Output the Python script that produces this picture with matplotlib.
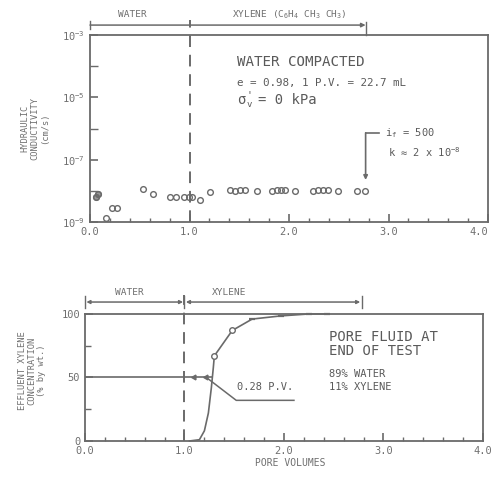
import matplotlib
matplotlib.use("Agg")
import matplotlib.pyplot as plt
import matplotlib.transforms as mtransforms
import numpy as np

plt.rcParams['font.family'] = ['DejaVu Sans Mono', 'DejaVu Sans']
plt.rcParams['mathtext.fontset'] = 'custom'
plt.rcParams['mathtext.rm'] = 'DejaVu Sans Mono'
plt.rcParams['mathtext.it'] = 'DejaVu Sans Mono:italic'
plt.rcParams['mathtext.default'] = 'regular'

# ---------------- data ----------------
# top: hydraulic conductivity vs pore volumes
k_pv = [0.06, 0.08, 0.16, 0.22, 0.27, 0.53, 0.63, 0.80, 0.86, 0.94, 0.99, 1.03,
        1.11, 1.21, 1.41, 1.46, 1.51, 1.56, 1.68, 1.83, 1.88, 1.92, 1.96, 2.06,
        2.24, 2.29, 2.34, 2.39, 2.49, 2.68, 2.76]
k_val = [6.5e-9, 8e-9, 1.35e-9, 2.8e-9, 2.8e-9, 1.15e-8, 8e-9, 6.3e-9, 6.3e-9,
         6.3e-9, 6.3e-9, 6.3e-9, 5e-9, 9e-9, 1.05e-8, 1e-8, 1.05e-8, 1.05e-8,
         1e-8, 1e-8, 1.05e-8, 1.05e-8, 1.05e-8, 1e-8, 1e-8, 1.05e-8, 1.05e-8,
         1.05e-8, 1e-8, 1e-8, 1e-8]
x_ticks = [0.0, 1.0, 2.0, 3.0, 4.0]
x_ticklabels = ["0.0", "1.0", "2.0", "3.0", "4.0"]
k_ticks = [1e-9, 1e-7, 1e-5, 1e-3]
k_ticklabels = ["10$^{-9}$", "10$^{-7}$", "10$^{-5}$", "10$^{-3}$"]

# bottom: effluent xylene concentration vs pore volumes
c_curve_pv = [1.05, 1.15, 1.20, 1.24, 1.27, 1.29, 1.30, 1.48, 1.68, 1.97, 2.25, 2.43]
c_curve_val = [0, 1, 8, 22, 42, 58, 67, 87, 96, 98.5, 100, 100]
c_circ_pv = [1.30, 1.48]
c_circ_val = [67, 87]
c_mark_pv = [1.68, 1.97, 2.25, 2.43]
c_mark_val = [96, 98.5, 100, 100]
c_ticks = [0, 50, 100]
c_ticklabels = ["0", "50", "100"]
half_pv = [0.0, 1.28]
half_val = [50, 50]
half_pts_pv = [1.10, 1.22]
half_pts_val = [50, 50]
leader_pv = [1.22, 1.52, 2.10]
leader_val = [50, 32, 32]

GRAY = "#6a6a6a"
TGRAY = "#6f6f6f"
DGRAY = "#5a5a5a"

fig = plt.figure(figsize=(4.91, 4.82), dpi=100)
ax1 = fig.add_axes([0.1833, 0.5394, 0.8106, 0.388])
ax2 = fig.add_axes([0.1731, 0.0851, 0.8106, 0.2635])

for ax in (ax1, ax2):
    for s in ax.spines.values():
        s.set_color(GRAY)
        s.set_linewidth(1.3)
    ax.tick_params(which='both', direction='in', colors=GRAY, labelcolor=TGRAY,
                   labelsize=7.5, top=False, right=False)
    ax.tick_params(which='major', length=6, width=1.2)
    ax.tick_params(which='minor', length=3, width=1.0)
    ax.set_xlim(0, 4.0)
    ax.set_xticks(x_ticks)
    ax.set_xticklabels(x_ticklabels)
    ax.set_xticks(np.arange(0, 4.01, 0.2), minor=True)

# ---------------- top panel ----------------
ax1.set_yscale('log')
ax1.set_ylim(1e-9, 1e-3)
ax1.set_yticks(k_ticks)
ax1.set_yticklabels(k_ticklabels)
ax1.set_yticks([1e-8, 1e-6, 1e-4], minor=True)
ax1.tick_params(axis='y', which='minor', length=6)
ax1.yaxis.set_minor_formatter(plt.NullFormatter())
ax1.get_xticklabels()[-1].set_horizontalalignment('right')
ax1.get_xticklabels()[-1].set_x(3.99)

ax1.plot(k_pv, k_val, 'o', ms=4.1, mfc='none', mec=GRAY, mew=1.0, clip_on=False)
ax1.plot(k_pv[:2], k_val[:2], 'o', ms=4.1, mfc=GRAY, mec=GRAY, alpha=0.7)

tr1 = mtransforms.blended_transform_factory(ax1.transData, ax1.transAxes)
ax1.plot([1.0, 1.0], [0, 1.08], transform=tr1, color=GRAY, lw=1.4,
         ls=(0, (6, 4)), clip_on=False)
ax1.annotate("", xy=(2.77, 1.053), xytext=(0.0, 1.053), xycoords=tr1,
             textcoords=tr1,
             arrowprops=dict(arrowstyle='-|>', color=GRAY, lw=1.1,
                             mutation_scale=6, shrinkA=0, shrinkB=0))
ax1.plot([0.0, 0.0], [1.03, 1.075], transform=tr1, color=GRAY, lw=1.0, clip_on=False)
ax1.plot([2.77, 2.77], [1.0, 1.07], transform=tr1, color=GRAY, lw=1.0, clip_on=False)
ax1.text(0.43, 1.107, "WATER", transform=tr1, ha='center', va='center',
         fontsize=6.8, color=TGRAY)
ax1.text(2.0, 1.107, "XYLENE (C$_6$H$_4$ CH$_3$ CH$_3$)", transform=tr1,
         ha='center', va='center', fontsize=6.8, color=TGRAY)

ax1.text(1.48, 0.856, "WATER COMPACTED", transform=tr1, ha='left', va='center',
         fontsize=10.2, color=DGRAY)
ax1.text(1.48, 0.742, "e = 0.98, 1 P.V. = 22.7 mL", transform=tr1, ha='left',
         va='center', fontsize=7.8, color=DGRAY)
# sigma'_v = 0 kPa, built from pieces
sig_xy = (1.48, 0.655)
ax1.annotate("σ", xy=sig_xy, xycoords=tr1, ha='left', va='center',
             fontsize=10, color=DGRAY)
ax1.annotate("'", xy=sig_xy, xycoords=tr1, xytext=(6.5, 3.5),
             textcoords='offset points', ha='left', va='center',
             fontsize=7, color=DGRAY)
ax1.annotate("v", xy=sig_xy, xycoords=tr1, xytext=(6.5, -3.5),
             textcoords='offset points', ha='left', va='center',
             fontsize=6.5, color=DGRAY)
ax1.annotate("= 0 kPa", xy=sig_xy, xycoords=tr1, xytext=(15, 0),
             textcoords='offset points', ha='left', va='center',
             fontsize=10, color=DGRAY)

ax1.annotate("", xy=(2.77, 10**-7.65), xytext=(2.77, 10**-6.14),
             arrowprops=dict(arrowstyle='-|>', color=GRAY, lw=1.2,
                             mutation_scale=6, shrinkA=0, shrinkB=0))
ax1.plot([2.77, 2.90], [10**-6.14, 10**-6.14], color=GRAY, lw=1.2)
ax1.text(2.965, 10**-6.14, "$i_f$ = 500", ha='left', va='center', fontsize=7.5,
         color=DGRAY)
ax1.text(2.99, 10**-6.75, "k ≈ 2 x 10$^{-8}$", ha='left', va='center',
         fontsize=7.5, color=DGRAY)

# ---------------- bottom panel ----------------
ax2.set_ylim(0, 100)
ax2.set_yticks(c_ticks)
ax2.set_yticklabels(c_ticklabels)
ax2.set_yticks([25, 75], minor=True)
ax2.tick_params(axis='y', which='minor', length=4)

ax2.plot(c_curve_pv, c_curve_val, color=GRAY, lw=1.2, clip_on=False)
ax2.plot(c_circ_pv, c_circ_val, 'o', ms=4, mfc='white', mec=GRAY, mew=1.0)
ax2.plot(c_mark_pv, c_mark_val, '_', ms=5, mec=GRAY, mew=1.6, clip_on=False)
ax2.plot(half_pv, half_val, color=GRAY, lw=1.2)
ax2.plot(half_pts_pv, half_pts_val, marker=(3, 0, 90), ls='none', ms=4, color=GRAY)
ax2.plot(leader_pv, leader_val, color=GRAY, lw=1.1)
ax2.text(1.53, 42.5, "0.28 P.V.", ha='left', va='center', fontsize=7.5,
         color=DGRAY)

tr2 = mtransforms.blended_transform_factory(ax2.transData, ax2.transAxes)
ax2.plot([1.0, 1.0], [0, 1.15], transform=tr2, color=GRAY, lw=1.4,
         ls=(0, (6, 4)), clip_on=False)
for a, b in [(0.0, 1.0), (1.0, 2.78)]:
    ax2.annotate("", xy=(b, 1.094), xytext=(a, 1.094), xycoords=tr2,
                 textcoords=tr2,
                 arrowprops=dict(arrowstyle='<|-|>', color=GRAY, lw=1.1,
                                 mutation_scale=5, shrinkA=1, shrinkB=1))
for xv in (0.0, 1.0, 2.78):
    ax2.plot([xv, xv], [1.05, 1.14], transform=tr2, color=GRAY, lw=1.0,
             clip_on=False)
ax2.text(0.45, 1.173, "WATER", transform=tr2, ha='center', va='center',
         fontsize=6.8, color=TGRAY)
ax2.text(1.45, 1.173, "XYLENE", transform=tr2, ha='center', va='center',
         fontsize=6.8, color=TGRAY)

ax2.text(2.45, 81.9, "PORE FLUID AT", ha='left', va='center', fontsize=10,
         color=DGRAY)
ax2.text(2.45, 70.5, "END OF TEST", ha='left', va='center', fontsize=10,
         color=DGRAY)
ax2.text(2.45, 52.8, "89% WATER", ha='left', va='center', fontsize=7.5,
         color=DGRAY)
ax2.text(2.45, 42.5, "11% XYLENE", ha='left', va='center', fontsize=7.5,
         color=DGRAY)

fig.text(290 / 491, 1 - 463 / 482, "PORE VOLUMES", ha='center', va='center',
         fontsize=7, color=TGRAY)
fig.text(35 / 491, 1 - 128 / 482, "HYDRAULIC\nCONDUCTIVITY\n(cm/s)",
         rotation=90, ha='center', va='center', fontsize=6.3, color=TGRAY,
         linespacing=1.1, multialignment='center')
fig.text(32 / 491, 1 - 371 / 482, "EFFLUENT XYLENE\nCONCENTRATION\n(% by wt.)",
         rotation=90, ha='center', va='center', fontsize=6.3, color=TGRAY,
         linespacing=1.1, multialignment='center')

fig.savefig("out.png", dpi=100)
